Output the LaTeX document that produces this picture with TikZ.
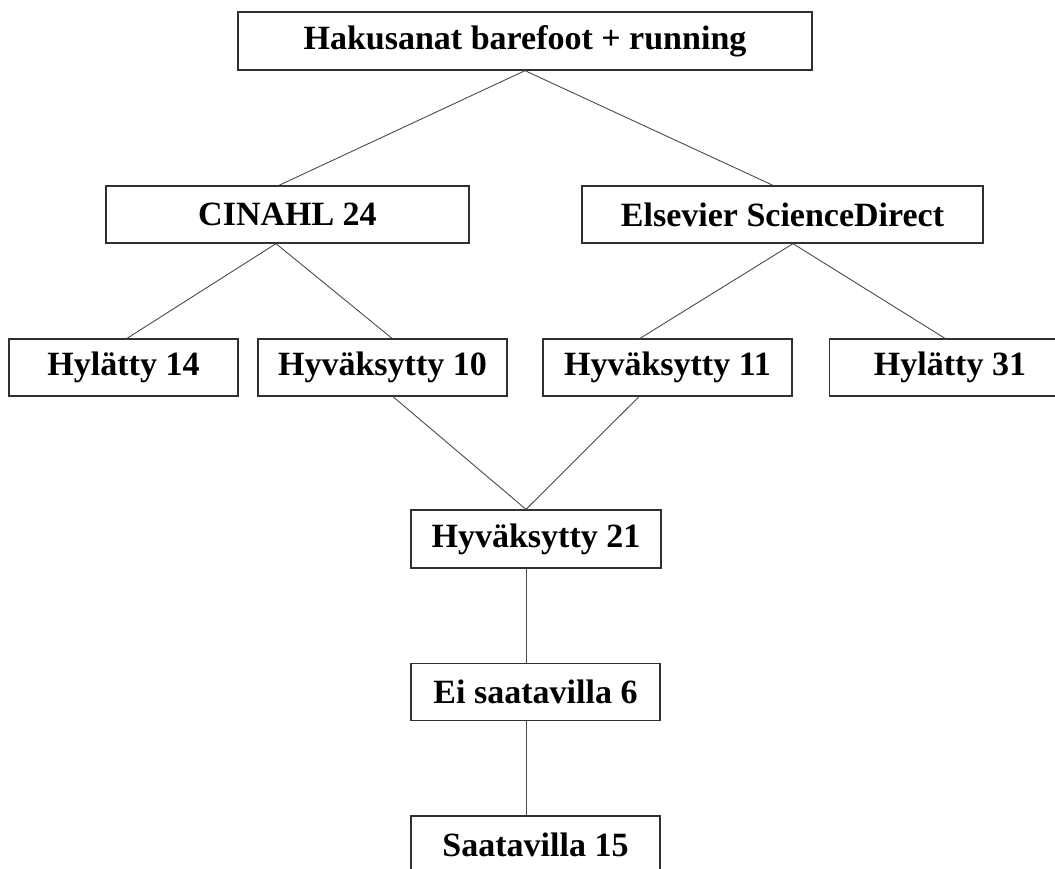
\documentclass[tikz,border=0pt]{standalone}
\usepackage{fontspec}
\setmainfont{Liberation Serif}
\definecolor{boxline}{HTML}{303030}
\definecolor{linkline}{HTML}{4A4A4A}

\begin{document}
\begin{tikzpicture}[
  x=1pt,y=-1pt,
  font=\bfseries\fontsize{34}{40}\selectfont,
  box/.style={draw=boxline,line width=1.3pt,fill=white,inner sep=0pt,minimum height=57pt},
  link/.style={draw=linkline,line width=0.9pt},
]
\useasboundingbox (0,0) rectangle (1055,868);

% ---------- search words ----------
\node[box,minimum width=574pt,minimum height=58pt] (haku) at (525,41) {Hakusanat barefoot + running};

% ---------- databases ----------
\node[box,minimum width=363pt] (cinahl) at (287.5,214.5) {CINAHL 24};
\node[box,minimum width=401pt] (elsevier) at (782.5,214.5) {Elsevier ScienceDirect};

% ---------- screening ----------
\node[box,minimum width=229pt] (hyl14) at (123.5,367.5) {Hylätty 14};
\node[box,minimum width=249pt] (hyv10) at (382.5,367.5) {Hyväksytty 10};
\node[box,minimum width=249pt] (hyv11) at (667.5,367.5) {Hyväksytty 11};
\node[box,minimum width=241pt] (hyl31) at (950,367.5) {Hylätty 31};

% ---------- merged chain ----------
\node[box,minimum width=250pt,minimum height=58pt] (hyv21) at (536,539) {Hyväksytty 21};
\node[box,minimum width=249pt] (eisaat) at (535.5,692) {Ei saatavilla 6};
\node[box,minimum width=249pt] (saat15) at (535.5,844.5) {Saatavilla 15};

% ---------- connectors ----------
\draw[link] (haku.south) -- ([xshift=-8.5pt]cinahl.north);
\draw[link] (haku.south) -- ([xshift=-9.5pt]elsevier.north);
\draw[link] ([xshift=-11.5pt]cinahl.south) -- ([xshift=3.5pt]hyl14.north);
\draw[link] ([xshift=-11.5pt]cinahl.south) -- ([xshift=9.5pt]hyv10.north);
\draw[link] ([xshift=10.5pt]elsevier.south) -- ([xshift=-27.5pt]hyv11.north);
\draw[link] ([xshift=10.5pt]elsevier.south) -- ([xshift=-5pt]hyl31.north);
\draw[link] ([xshift=10.5pt]hyv10.south) -- ([xshift=-10pt]hyv21.north);
\draw[link] ([xshift=-28.5pt]hyv11.south) -- ([xshift=-10pt]hyv21.north);
\draw[link] ([xshift=-10pt]hyv21.south) -- ([xshift=-9.5pt]eisaat.north);
\draw[link] ([xshift=-9.5pt]eisaat.south) -- ([xshift=-9.5pt]saat15.north);

\end{tikzpicture}
\end{document}
